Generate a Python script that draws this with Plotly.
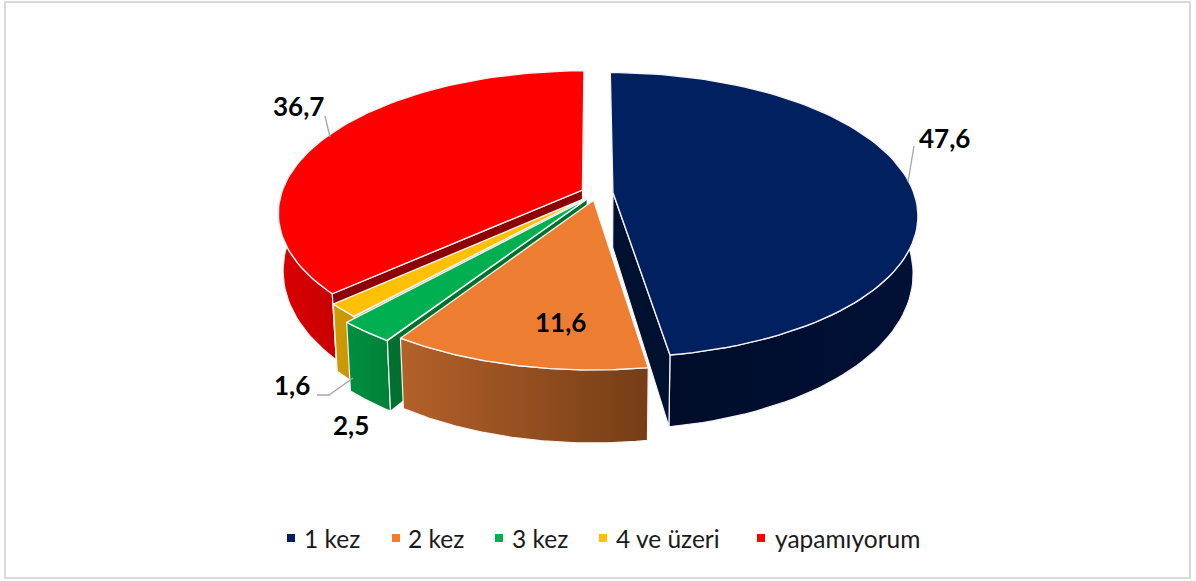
import math
import plotly.graph_objects as go

# ---- data ----
categories = ["1 kez", "2 kez", "3 kez", "4 ve üzeri", "yapamıyorum"]
values = [47.6, 11.6, 2.5, 1.6, 36.7]
value_labels = ["47,6", "11,6", "2,5", "1,6", "36,7"]

# ---- styles ----
top_colors = ["#002060", "#ED7D31", "#00B050", "#FFC000", "#FF0000"]
wall_left = ["#000D2A", "#B36129", "#008F41", "#CF9C00", "#DA0000"]
wall_right = ["#001136", "#763D17", "#008038", "#C49300", "#C80000"]
edge_walls = ["#00102F", "#8A4A1F", "#00702F", "#997300", "#8E0000"]
slice_radius = [1, 1.008, 1.035, 1, 1]
legend_chip_x = [291, 396, 499, 603, 761]
legend_text_x = [302, 406, 510, 614, 773]
label_pos = [(944, 138), (560, 322), (351, 425), (292, 385), (298, 106)]
leaders = [[(908, 182), (914, 146)], [(317, 395), (329, 395), (353, 378)], [(325, 116), (330, 137)]]

# projection constants (pie tilted with perspective)
CX, CY, RX, RY, K = 597, 193, 301, 139, 0.158
EXPLODE, ROT = 0.053, -0.1
D0, D1, SHRINK = 55, 17, 0.985
N = 90


def project(u, v, bottom=False):
    s = 1 / (1 - K * v)
    x = RX * u * s
    y = CY + RY * v * s
    if bottom:
        return CX + x * SHRINK, y + D0 + D1 * v
    return CX + x, y


def disc(theta, r, off):
    t = math.radians(theta)
    return off[0] + r * math.sin(t), off[1] - r * math.cos(t)


def path(points, bottom=False):
    return [project(u, v, bottom) for u, v in points]


def poly(pts, name, color=None, grad=None, lw=1.2):
    xs = [p[0] for p in pts] + [pts[0][0]]
    ys = [p[1] for p in pts] + [pts[0][1]]
    kw = dict(fillgradient=dict(type="horizontal", colorscale=[[0, grad[0]], [1, grad[1]]])) if grad else dict(fillcolor=color)
    return go.Scatter(x=xs, y=ys, mode="lines", fill="toself", name=name, showlegend=False, hoverinfo="name",
                      line=dict(color="#F4F4F4", width=lw), **kw)


total = sum(values)
spans = []
acc = ROT
for val in values:
    spans.append((acc, acc + 360 * val / total))
    acc += 360 * val / total

fig = go.Figure()
for i in [4, 3, 2, 1, 0]:
    a, b = spans[i]
    r = slice_radius[i]
    mid = math.radians((a + b) / 2)
    off = (EXPLODE * math.sin(mid), -EXPLODE * math.cos(mid))
    arc = [disc(a + (b - a) * j / N, r, off) for j in range(N + 1)]
    # outer wall: the top face drawn afterwards hides whatever lies behind it
    front = [p for p, j in zip(arc, range(N + 1)) if -math.cos(math.radians(a + (b - a) * j / N)) > -0.35]
    if front:
        fig.add_trace(poly(path(front) + path(front, True)[::-1], categories[i], grad=(wall_left[i], wall_right[i])))
    # radial wall visible on the cut sides
    ar, br = math.radians(a), math.radians(b)
    if -math.sin(ar) > 0.05:
        e = [off, disc(a, r, off)]
        fig.add_trace(poly(path(e) + path(e, True)[::-1], categories[i], color=edge_walls[i]))
    if math.sin(br) > 0.05:
        e = [off, disc(b, r, off)]
        fig.add_trace(poly(path(e) + path(e, True)[::-1], categories[i], color=edge_walls[i]))
    # top face
    fig.add_trace(poly(path([off] + arc), categories[i], color=top_colors[i], lw=1.4))

annotations = [dict(x=x, y=y, text=f"<b>{t}</b>", showarrow=False, xref="x", yref="y",
                    font=dict(family="Lato", size=26, color="#000000"))
               for (x, y), t in zip(label_pos, value_labels)]
for tx, name in zip(legend_text_x, categories):
    annotations.append(dict(x=tx, y=538, text=name, showarrow=False, xanchor="left", xref="x", yref="y",
                            font=dict(family="Lato", size=24.5, color="#1A1A1A")))

shapes = [dict(type="rect", xref="x", yref="y", x0=5, y0=2, x1=1190, y1=578,
               line=dict(color="#D9D9D9", width=2), layer="below")]
for cx, col in zip(legend_chip_x, top_colors):
    shapes.append(dict(type="rect", xref="x", yref="y", x0=cx - 4, x1=cx + 4, y0=534, y1=542,
                       fillcolor=col, line=dict(width=0)))
for seg in leaders:
    shapes.append(dict(type="path", xref="x", yref="y",
                       path="M" + "L".join(f"{x},{y}" for x, y in seg),
                       line=dict(color="#A6A6A6", width=1.3)))

fig.update_layout(width=1196, height=581, margin=dict(l=0, r=0, t=0, b=0), showlegend=False,
                  paper_bgcolor="white", plot_bgcolor="white",
                  xaxis=dict(visible=False, range=[0, 1196], fixedrange=True),
                  yaxis=dict(visible=False, range=[581, 0], fixedrange=True),
                  annotations=annotations, shapes=shapes)
fig.write_html("out.html", config=dict(displayModeBar=False),
               post_script="document.body.style.margin='0';document.documentElement.style.overflow='hidden';")
